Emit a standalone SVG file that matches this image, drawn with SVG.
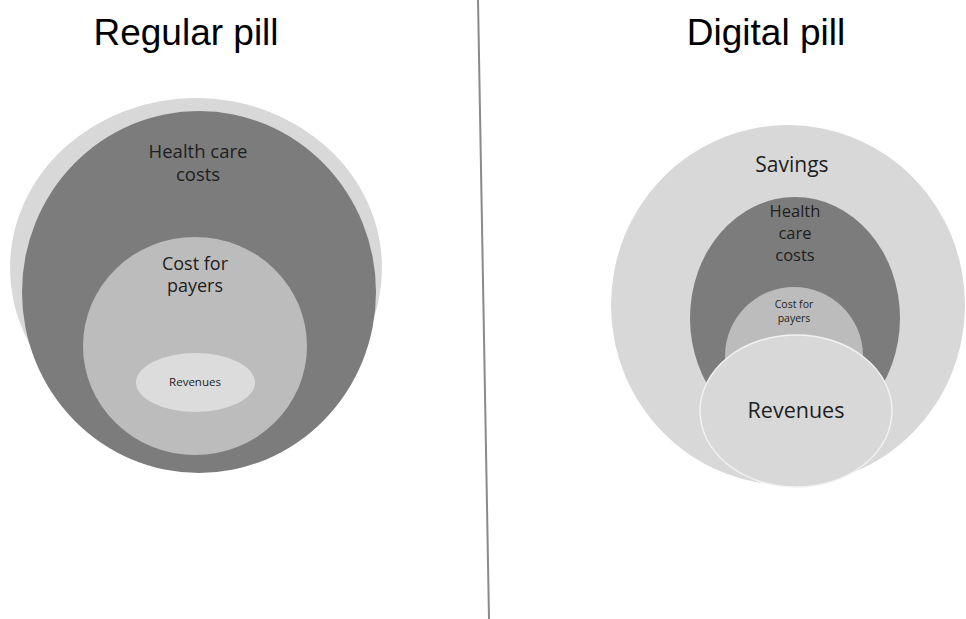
<svg xmlns="http://www.w3.org/2000/svg" width="966" height="619" viewBox="0 0 966 619">
  <style>
    .title { font-family: "Liberation Sans", Arial, sans-serif; font-size: 37px; fill: #000; text-anchor: middle; }
    .lbl { font-family: "Open Sans", "Noto Sans", sans-serif; fill: #1e1e1e; text-anchor: middle; }
    .pale { fill: #d8d8d8; }
    .dark { fill: #7c7c7c; }
    .mid { fill: #bcbcbc; }
  </style>
  <rect width="966" height="619" fill="#ffffff"/>

  <!-- divider between the two panels -->
  <line x1="478" y1="0" x2="489" y2="619" stroke="#8a8a8a" stroke-width="2"/>

  <text class="title" x="186" y="45">Regular pill</text>
  <text class="title" x="766" y="45">Digital pill</text>

  <!-- left panel: regular pill -->
  <g id="regular-outer">
    <ellipse class="pale" cx="196" cy="268" rx="186" ry="170"/>
  </g>
  <g id="regular-health-care-costs">
    <ellipse class="dark" cx="199" cy="292" rx="177" ry="181"/>
    <text class="lbl" x="198" y="158" font-size="18.5">Health care</text>
    <text class="lbl" x="198" y="181" font-size="18.5">costs</text>
  </g>
  <g id="regular-cost-for-payers">
    <ellipse class="mid" cx="195" cy="346" rx="112" ry="109"/>
    <text class="lbl" x="195" y="270" font-size="18">Cost for</text>
    <text class="lbl" x="195" y="292" font-size="18">payers</text>
  </g>
  <g id="regular-revenues">
    <ellipse cx="195.5" cy="382.5" rx="59.5" ry="29.5" fill="#dcdcdc"/>
    <text class="lbl" x="195" y="386" font-size="11.5">Revenues</text>
  </g>

  <!-- right panel: digital pill -->
  <g id="digital-savings">
    <ellipse class="pale" cx="788" cy="305" rx="177" ry="180"/>
    <text class="lbl" x="792" y="172" font-size="21">Savings</text>
  </g>
  <g id="digital-health-care-costs">
    <ellipse class="dark" cx="795" cy="318" rx="105" ry="121"/>
    <text class="lbl" x="795" y="217" font-size="16.5">Health</text>
    <text class="lbl" x="795" y="239" font-size="16.5">care</text>
    <text class="lbl" x="795" y="261" font-size="16.5">costs</text>
  </g>
  <g id="digital-cost-for-payers">
    <ellipse class="mid" cx="794" cy="356" rx="69" ry="69"/>
    <text class="lbl" x="794" y="308" font-size="10.5">Cost for</text>
    <text class="lbl" x="794" y="322" font-size="10.5">payers</text>
  </g>
  <g id="digital-revenues">
    <ellipse class="pale" cx="796" cy="411" rx="96" ry="76" stroke="#f2f2f2" stroke-width="1.5"/>
    <text class="lbl" x="796" y="418" font-size="21.5">Revenues</text>
  </g>
</svg>
